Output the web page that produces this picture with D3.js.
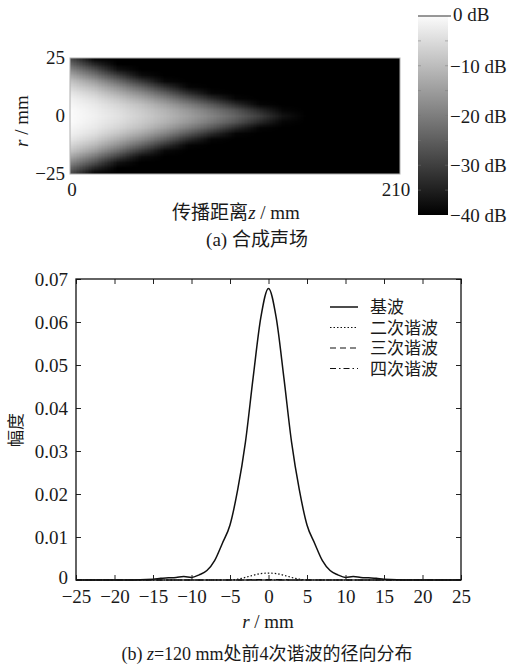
<!DOCTYPE html>
<html>
<head>
<meta charset="utf-8">
<script src="https://cdn.jsdelivr.net/npm/d3@7"></script>
<style>
  body { margin: 0; background: #fff; }
  svg { display: block; }
  text { fill: #1a1a1a; font-family: "Liberation Serif", "Times New Roman", "Noto Sans CJK SC", serif; }
  .cjk { font-family: "Liberation Serif", "Times New Roman", "Noto Sans CJK SC", sans-serif; }
</style>
</head>
<body>
<div id="chart"></div>
<script>
// ---- data: (a) combined sound field, dB, one row per z, columns at rHalf (mirrored for -r)
var zCols = [0, 15, 30, 45, 60, 75, 90, 105, 120, 135, 150, 165, 180, 195, 210];
var rHalf = [0, 2.5, 5, 7.5, 10, 12.5, 15, 17.5, 20, 22.5, 25];
var fieldDb = [
  [0, 0, -0.8, -1.6, -3.4, -6, -9, -13.5, -18.5, -24, -29],
  [-1.6, -2, -2.8, -4.4, -7, -10.5, -15, -21, -27, -34, -40],
  [-4, -4.6, -6, -8.6, -12.4, -17, -23, -30, -37, -40, -40],
  [-7, -7.8, -9.6, -13.2, -18, -24, -31, -38, -40, -40, -40],
  [-10.5, -11.5, -14.4, -19, -25, -32, -38.5, -40, -40, -40, -40],
  [-14.5, -16, -20, -26, -33, -39, -40, -40, -40, -40, -40],
  [-19, -21, -26, -33, -39, -40, -40, -40, -40, -40, -40],
  [-24, -26.5, -33, -39, -40, -40, -40, -40, -40, -40, -40],
  [-30, -33.5, -39, -40, -40, -40, -40, -40, -40, -40, -40],
  [-37, -39, -40, -40, -40, -40, -40, -40, -40, -40, -40],
  [-40, -40, -40, -40, -40, -40, -40, -40, -40, -40, -40],
  [-40, -40, -40, -40, -40, -40, -40, -40, -40, -40, -40],
  [-40, -40, -40, -40, -40, -40, -40, -40, -40, -40, -40],
  [-40, -40, -40, -40, -40, -40, -40, -40, -40, -40, -40],
  [-40, -40, -40, -40, -40, -40, -40, -40, -40, -40, -40]
];
var cbTicks = [0, -10, -20, -30, -40];

// ---- data: (b) radial distribution at z = 120 mm
var rPts = [-25, -20, -15, -14, -13, -12, -11, -10, -9, -8, -7, -6, -5, -4, -3, -2, -1, 0,
            1, 2, 3, 4, 5, 6, 7, 8, 9, 10, 11, 12, 13, 14, 15, 20, 25];
var fund = [0, 0, 0.0002, 0.0004, 0.0005, 0.0006, 0.0008, 0.0006, 0.0012, 0.0022, 0.0045, 0.0085, 0.0128, 0.021, 0.032, 0.047, 0.061, 0.0678,
            0.061, 0.047, 0.032, 0.021, 0.0128, 0.0085, 0.0045, 0.0022, 0.0012, 0.0006, 0.0008, 0.0006, 0.0005, 0.0004, 0.0002, 0, 0];
var harm2 = [0, 0, 0, 0, 0, 0, 0, 0, 0, 0, 0, 0, 0, 0.0002, 0.0006, 0.0011, 0.0015, 0.0016,
             0.0015, 0.0011, 0.0006, 0.0002, 0, 0, 0, 0, 0, 0, 0, 0, 0, 0, 0, 0, 0];
var harm3 = [0, 0, 0, 0, 0, 0, 0, 0, 0, 0, 0, 0, 0, 0, 0, 0.0001, 0.0001, 0.0001,
             0.0001, 0.0001, 0, 0, 0, 0, 0, 0, 0, 0, 0, 0, 0, 0, 0, 0, 0];
var harm4 = [0, 0, 0, 0, 0, 0, 0, 0, 0, 0, 0, 0, 0, 0, 0, 0, 0, 0,
             0, 0, 0, 0, 0, 0, 0, 0, 0, 0, 0, 0, 0, 0, 0, 0, 0];
var seriesNames = ["基波", "二次谐波", "三次谐波", "四次谐波"];
var xTicksB = [-25, -20, -15, -10, -5, 0, 5, 10, 15, 20, 25];
var yTicksB = [0, 0.01, 0.02, 0.03, 0.04, 0.05, 0.06, 0.07];

var svg = d3.select("#chart").append("svg")
  .attr("width", 513)
  .attr("height", 665);

// ================= (a) heat map =================
var xA = d3.scaleLinear().domain([0, 210]).range([70, 400]);
var yA = d3.scaleLinear().domain([-25, 25]).range([174, 58]);
var gray = d3.scaleLinear().domain([-40, 0]).range(["#000000", "#fbfbfb"]);

// build a small image, one pixel per data cell, rows r = 25 .. -25
var rRows = rHalf.slice().reverse().concat(rHalf.slice(1).map(function(r) { return -r; }));
var canvas = document.createElement("canvas");
canvas.width = zCols.length;
canvas.height = rRows.length;
var ctx = canvas.getContext("2d");
var img = ctx.createImageData(canvas.width, canvas.height);
rRows.forEach(function(r, j) {
  var k = rHalf.indexOf(Math.abs(r));
  zCols.forEach(function(z, i) {
    var c = d3.rgb(gray(fieldDb[i][k]));
    var p = (j * canvas.width + i) * 4;
    img.data[p] = c.r; img.data[p + 1] = c.g; img.data[p + 2] = c.b; img.data[p + 3] = 255;
  });
});
ctx.putImageData(img, 0, 0);

svg.append("clipPath").attr("id", "clipA")
  .append("rect")
  .attr("x", xA(0)).attr("y", yA(25))
  .attr("width", xA(210) - xA(0)).attr("height", yA(-25) - yA(25));

// pixel centres sit on the data coordinates
var dz = zCols[1] - zCols[0], dr = rHalf[1] - rHalf[0];
svg.append("g").attr("clip-path", "url(#clipA)")
  .append("image")
  .attr("href", canvas.toDataURL())
  .attr("preserveAspectRatio", "none")
  .attr("x", xA(zCols[0] - dz / 2))
  .attr("width", xA(zCols[zCols.length - 1] + dz / 2) - xA(zCols[0] - dz / 2))
  .attr("y", yA(25 + dr / 2))
  .attr("height", yA(-25 - dr / 2) - yA(25 + dr / 2));

svg.append("rect")
  .attr("x", xA(0)).attr("y", yA(25))
  .attr("width", xA(210) - xA(0)).attr("height", yA(-25) - yA(25))
  .attr("fill", "none").attr("stroke", "#b0b0b0").attr("stroke-width", 1);

// axis labels (a)
[25, 0, -25].forEach(function(v) {
  svg.append("text")
    .attr("x", 65).attr("y", yA(v) + 6)
    .attr("text-anchor", "end")
    .style("font-size", "19px")
    .text(d3.format("d")(v));
});
svg.append("text").attr("x", xA(0) + 2).attr("y", 196)
  .attr("text-anchor", "middle").style("font-size", "19px").text("0");
svg.append("text").attr("x", xA(210) - 4).attr("y", 196)
  .attr("text-anchor", "middle").style("font-size", "19px").text("210");

svg.append("text")
  .attr("transform", "translate(28,121) rotate(-90)")
  .attr("text-anchor", "middle")
  .style("font-size", "19px")
  .html('<tspan font-style="italic">r</tspan> / mm');

svg.append("text").attr("class", "cjk")
  .attr("x", 236).attr("y", 219)
  .attr("text-anchor", "middle").style("font-size", "19px")
  .html('传播距离<tspan font-style="italic">z</tspan> / mm');

svg.append("text").attr("class", "cjk")
  .attr("x", 257).attr("y", 246)
  .attr("text-anchor", "middle").style("font-size", "19px")
  .text("(a) 合成声场");

// colour bar
var cbY = d3.scaleLinear().domain([0, -40]).range([16, 215]);
var grad = svg.append("defs").append("linearGradient")
  .attr("id", "cbGrad").attr("x1", 0).attr("y1", 0).attr("x2", 0).attr("y2", 1);
grad.append("stop").attr("offset", "0%").attr("stop-color", gray(0));
grad.append("stop").attr("offset", "100%").attr("stop-color", gray(-40));
svg.append("rect")
  .attr("x", 418).attr("y", cbY(0))
  .attr("width", 30).attr("height", cbY(-40) - cbY(0))
  .attr("fill", "url(#cbGrad)");
svg.append("line")
  .attr("x1", 418).attr("x2", 451).attr("y1", cbY(0)).attr("y2", cbY(0))
  .attr("stroke", "#333").attr("stroke-width", 1.2);
[-5, -10, -15, -20, -25, -30, -35].forEach(function(v) {
  svg.append("line").attr("x1", 418).attr("x2", 421).attr("y1", cbY(v)).attr("y2", cbY(v))
    .attr("stroke", "#777").attr("stroke-width", 0.8).attr("opacity", 0.6);
  svg.append("line").attr("x1", 445).attr("x2", 448).attr("y1", cbY(v)).attr("y2", cbY(v))
    .attr("stroke", "#777").attr("stroke-width", 0.8).attr("opacity", 0.6);
});
cbTicks.forEach(function(v) {
  svg.append("text")
    .attr("x", v === 0 ? 453 : 450).attr("y", cbY(v) + (v === 0 ? 5 : 7))
    .style("font-size", "19px")
    .text(d3.format("d")(v) + " dB");
});

// ================= (b) radial distribution =================
var xB = d3.scaleLinear().domain([-25, 25]).range([76, 461]);
var yB = d3.scaleLinear().domain([0, 0.07]).range([580, 279]);

var line = d3.line()
  .x(function(d, i) { return xB(rPts[i]); })
  .y(function(d) { return yB(d); })
  .curve(d3.curveMonotoneX);

var styles = [
  { data: fund, dash: null, w: 1.5 },
  { data: harm2, dash: "1.5,2", w: 1.2 },
  { data: harm3, dash: "6,4", w: 1.2 },
  { data: harm4, dash: "6,3,1.5,3", w: 1.2 }
];
styles.forEach(function(s) {
  svg.append("path")
    .attr("d", line(s.data))
    .attr("fill", "none")
    .attr("stroke", "#111")
    .attr("stroke-width", s.w)
    .attr("stroke-dasharray", s.dash);
});

// axes, ticks pointing inward on all four sides
var bottomAxis = d3.axisBottom(xB).tickValues(xTicksB).tickSize(-5).tickFormat(d3.format("d"));
var topAxis = d3.axisTop(xB).tickValues(xTicksB).tickSize(-5).tickFormat("");
var leftAxis = d3.axisLeft(yB).tickValues(yTicksB).tickSize(-5)
  .tickFormat(function(d) { return d === 0 ? "0" : d3.format(".2f")(d); });
var rightAxis = d3.axisRight(yB).tickValues(yTicksB).tickSize(-5).tickFormat("");

function styleAxis(g) {
  g.select(".domain").remove();
  g.selectAll(".tick line").attr("stroke", "#222").attr("stroke-width", 1);
  g.selectAll(".tick text")
    .style("font-family", "'Liberation Serif', 'Times New Roman', serif")
    .style("font-size", "19px")
    .attr("fill", "#1a1a1a");
}
svg.append("g").attr("transform", "translate(0,580)").call(bottomAxis)
  .call(styleAxis).selectAll(".tick text").attr("y", 10);
svg.append("g").attr("transform", "translate(0,279)").call(topAxis).call(styleAxis);
svg.append("g").attr("transform", "translate(76,0)").call(leftAxis)
  .call(styleAxis).selectAll(".tick text")
  .attr("x", -8)
  .attr("dy", function(d) { return d === 0 ? "0.2em" : "0.32em"; });
svg.append("g").attr("transform", "translate(461,0)").call(rightAxis).call(styleAxis);

svg.append("rect")
  .attr("x", 76).attr("y", 279).attr("width", 461 - 76).attr("height", 580 - 279)
  .attr("fill", "none").attr("stroke", "#111").attr("stroke-width", 1.3);

// legend
var legend = svg.append("g").attr("transform", "translate(330,307)");
seriesNames.forEach(function(name, i) {
  var row = legend.append("g").attr("transform", "translate(0," + (i * 20.5) + ")");
  row.append("line")
    .attr("x1", 0).attr("x2", 28).attr("y1", 0).attr("y2", 0)
    .attr("stroke", "#111").attr("stroke-width", styles[i].w)
    .attr("stroke-dasharray", styles[i].dash);
  row.append("text").attr("class", "cjk")
    .attr("x", 40).attr("y", 6)
    .style("font-size", "17px")
    .text(name);
});

svg.append("text").attr("class", "cjk")
  .attr("transform", "translate(22,430) rotate(-90)")
  .attr("text-anchor", "middle")
  .style("font-size", "17px")
  .text("幅度");

svg.append("text")
  .attr("x", 268).attr("y", 628)
  .attr("text-anchor", "middle").style("font-size", "19px")
  .html('<tspan font-style="italic">r</tspan> / mm');

svg.append("text").attr("class", "cjk")
  .attr("x", 267).attr("y", 660)
  .attr("text-anchor", "middle").style("font-size", "18px")
  .html('(b) <tspan font-style="italic">z</tspan>=120 mm处前4次谐波的径向分布');
</script>
</body>
</html>
